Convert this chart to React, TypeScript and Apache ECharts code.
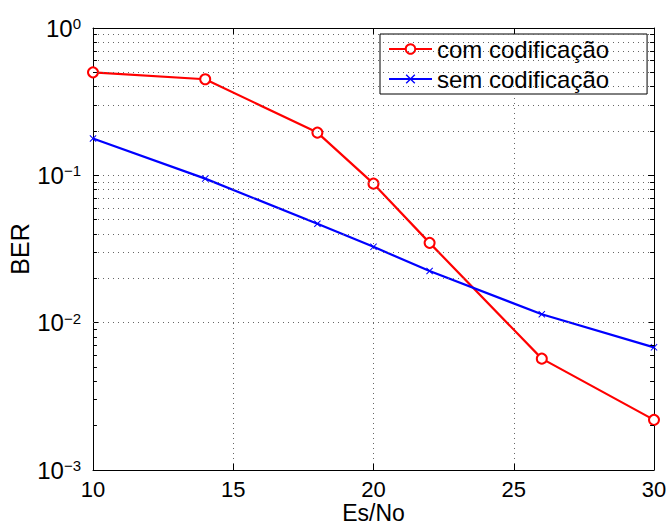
import React, { useEffect, useRef } from "react";
import * as echarts from "echarts";

const esNo = [10, 14, 18, 20, 22, 26, 30];
const comCodificacao = [0.5, 0.449, 0.195, 0.0878, 0.0348, 0.0057, 0.00219];
const semCodificacao = [0.178, 0.095, 0.0469, 0.0327, 0.0224, 0.0114, 0.0068];
const seriesNames = ["com codificação", "sem codificação"];
const decades = [0.001, 0.01, 0.1];
const minorMultipliers = [2, 3, 4, 5, 6, 7, 8, 9];
const xMin = 10;
const xMax = 30;

const FONT = "Liberation Sans, Arial, Helvetica, sans-serif";
const X_SYMBOL = "path://M1,0 L5,4 L9,0 L10,1 L6,5 L10,9 L9,10 L5,6 L1,10 L0,9 L4,5 L0,1 Z";

export default function App() {
  const ref = useRef<HTMLDivElement>(null);
  useEffect(() => {
    if (!ref.current) return;
    const chart = echarts.init(ref.current, undefined, { renderer: "svg" });
    const minorVals: number[] = [];
    decades.forEach((d) => minorMultipliers.forEach((m) => minorVals.push(d * m)));
    const dotted = [1, 4];
    const gridStyle = { type: dotted, color: "#666", width: 1 };
    const tickLen = (xMax - xMin) * 0.007;
    const yLabelFmt = (v: number) => {
      const e = Math.round(Math.log10(v));
      const s = e < 0 ? "\u2212" + String(-e) : String(e);
      return `{b|10}{s|${s}}`;
    };
    const minorTickData: any[] = [];
    minorVals.forEach((v) => {
      minorTickData.push([{ coord: [xMin, v] }, { coord: [xMin + tickLen, v] }]);
      minorTickData.push([{ coord: [xMax - tickLen, v] }, { coord: [xMax, v] }]);
    });
    chart.setOption({
      animation: false,
      backgroundColor: "#fff",
      textStyle: { fontFamily: FONT, color: "#000" },
      grid: { left: 93, right: 14, top: 28, bottom: 55, containLabel: false, outerBoundsMode: "none" },
      legend: {
        data: seriesNames,
        orient: "vertical",
        left: 380,
        top: 34,
        backgroundColor: "#fff",
        borderColor: "#000",
        borderWidth: 1,
        padding: [3, 38, 3, 8],
        itemGap: 6,
        itemWidth: 43,
        itemHeight: 12,
        textStyle: { fontSize: 24, color: "#000", fontFamily: FONT },
      },
      xAxis: [
        {
          type: "value",
          min: xMin,
          max: xMax,
          interval: 5,
          name: "Es/No",
          nameLocation: "middle",
          nameGap: 31,
          nameMoveOverlap: false,
          nameTextStyle: { fontSize: 23, color: "#000", fontFamily: FONT },
          axisLine: { show: true, lineStyle: { color: "#000", width: 1 } },
          axisTick: { show: true, inside: true, length: 6, lineStyle: { color: "#000" } },
          axisLabel: { fontSize: 22, color: "#000", margin: 8, fontFamily: FONT },
          splitLine: { show: true, lineStyle: gridStyle },
        },
        {
          type: "value",
          position: "top",
          min: xMin,
          max: xMax,
          interval: 5,
          axisLine: { show: true, lineStyle: { color: "#000", width: 1 } },
          axisTick: { show: true, inside: true, length: 6, lineStyle: { color: "#000" } },
          axisLabel: { show: false },
          splitLine: { show: false },
        },
      ],
      yAxis: [
        {
          type: "log",
          logBase: 10,
          min: 0.001,
          max: 1,
          name: "BER",
          nameLocation: "middle",
          nameGap: 61,
          nameMoveOverlap: false,
          nameTextStyle: { fontSize: 25, color: "#000", fontFamily: FONT },
          axisLine: { show: true, lineStyle: { color: "#000", width: 1 } },
          axisTick: { show: true, inside: true, length: 6, lineStyle: { color: "#000" } },
          axisLabel: {
            formatter: yLabelFmt,
            margin: 12,
            rich: {
              b: { fontSize: 24, lineHeight: 24, color: "#000", fontFamily: FONT, verticalAlign: "bottom", padding: [8, 0, 0, 0] },
              s: { fontSize: 15, lineHeight: 15, color: "#000", fontFamily: FONT, verticalAlign: "top" },
            },
          },
          splitLine: { show: true, lineStyle: gridStyle },
        },
        {
          type: "log",
          logBase: 10,
          min: 0.001,
          max: 1,
          position: "right",
          axisLine: { show: true, lineStyle: { color: "#000", width: 1 } },
          axisTick: { show: true, inside: true, length: 6, lineStyle: { color: "#000" } },
          axisLabel: { show: false },
          splitLine: { show: false },
        },
      ],
      series: [
        {
          name: seriesNames[0],
          type: "line",
          data: esNo.map((x, i) => [x, comCodificacao[i]]),
          symbol: "emptyCircle",
          symbolSize: 10,
          lineStyle: { color: "#ff0000", width: 2.2 },
          itemStyle: { color: "#ff0000", borderColor: "#ff0000", borderWidth: 2 },
          markLine: {
            silent: true,
            symbol: ["none", "none"],
            label: { show: false },
            emphasis: { disabled: true },
            lineStyle: { type: dotted, color: "#666", width: 1 },
            data: minorVals.map((v) => ({ yAxis: v })),
          },
          z: 3,
        },
        {
          name: seriesNames[1],
          type: "line",
          data: esNo.map((x, i) => [x, semCodificacao[i]]),
          symbol: X_SYMBOL,
          symbolSize: 7,
          lineStyle: { color: "#0000ff", width: 2.2 },
          itemStyle: { color: "#0000ff" },
          markLine: {
            silent: true,
            symbol: ["none", "none"],
            label: { show: false },
            emphasis: { disabled: true },
            lineStyle: { type: "solid", color: "#000", width: 1 },
            data: minorTickData,
          },
          z: 3,
        },
      ],
    });
    return () => chart.dispose();
  }, []);
  return <div ref={ref} style={{ width: 668, height: 525, position: "absolute", left: 0, top: 0 }} />;
}
